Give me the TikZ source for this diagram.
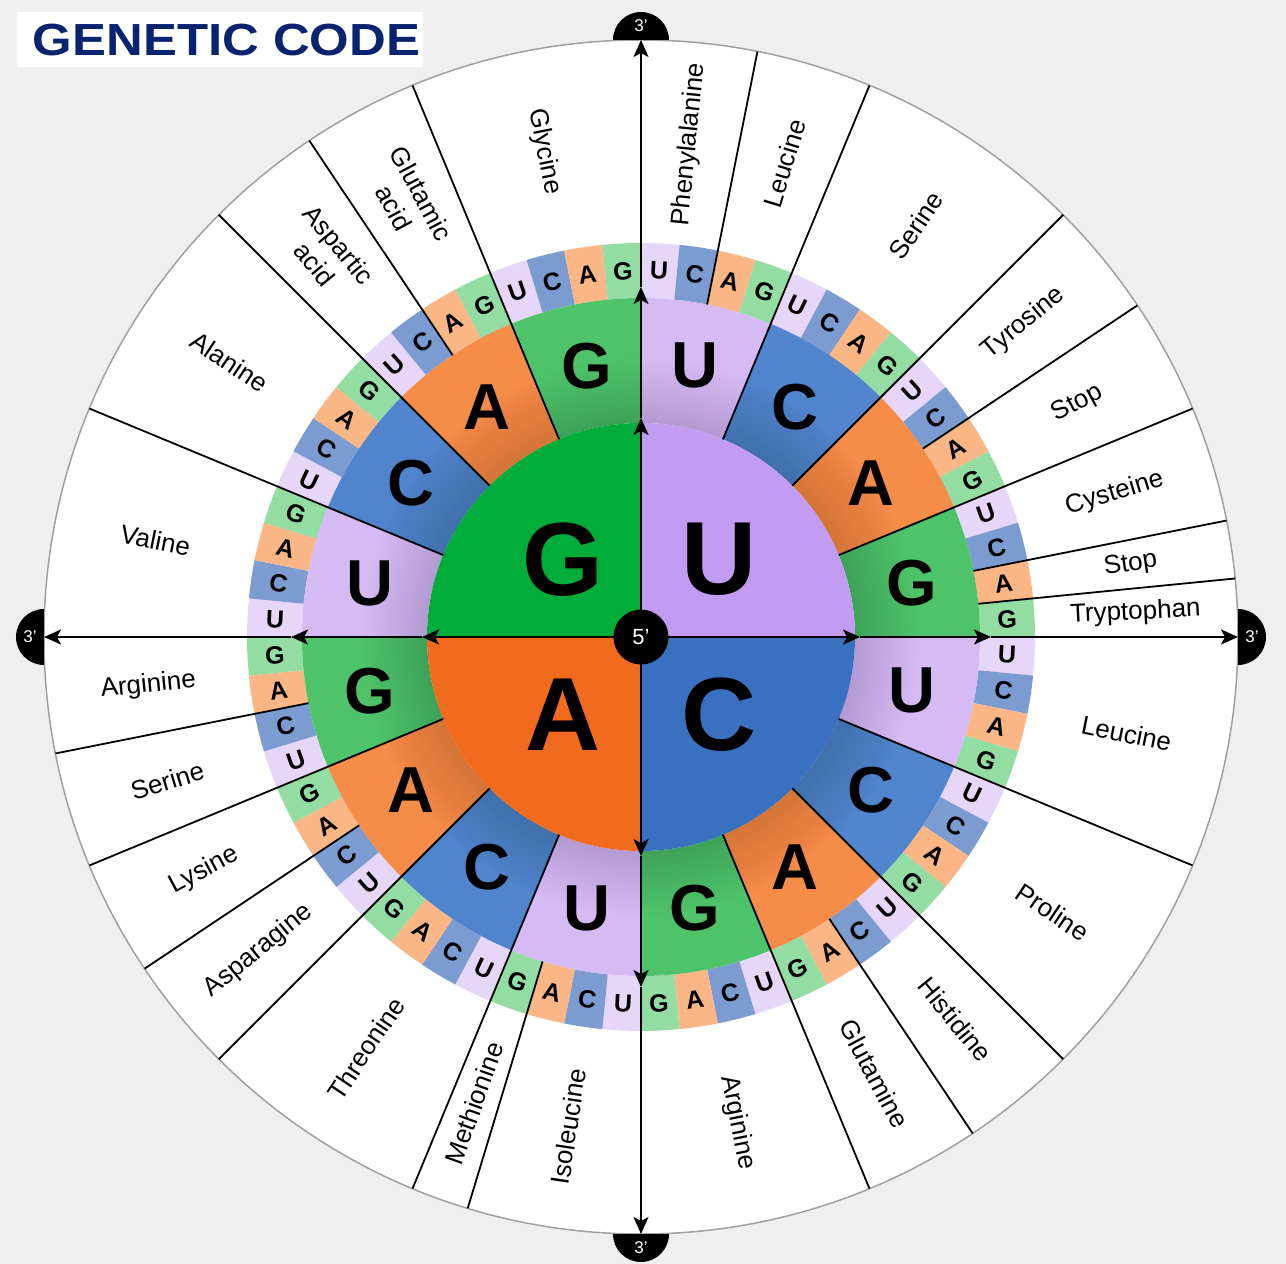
\documentclass[tikz,border=0pt]{standalone}
\usepackage{fontspec}
\setmainfont{Liberation Sans}
\usetikzlibrary{arrows.meta}
\definecolor{bg}{RGB}{239,239,239}
\definecolor{rim}{RGB}{160,160,160}
\definecolor{inU}{RGB}{193,156,242}
\definecolor{inC}{RGB}{58,112,192}
\definecolor{inA}{RGB}{242,106,30}
\definecolor{inG}{RGB}{0,172,58}
\definecolor{midU}{RGB}{213,186,243}
\definecolor{midC}{RGB}{80,132,204}
\definecolor{midA}{RGB}{245,140,72}
\definecolor{midG}{RGB}{78,195,105}
\definecolor{outU}{RGB}{230,214,250}
\definecolor{outC}{RGB}{124,155,208}
\definecolor{outA}{RGB}{251,182,134}
\definecolor{outG}{RGB}{147,220,162}
\definecolor{navy}{RGB}{8,36,112}
\begin{document}
\begin{tikzpicture}[x=1pt,y=1pt,
  divider/.style={black,line width=1.8pt},
  axisline/.style={black,line width=1.8pt,-{Stealth[length=17pt,width=15pt,inset=4pt]}},
  amino/.style={font=\fontsize{26}{31}\selectfont,align=center,inner sep=0pt},
  thirdlet/.style={font=\bfseries\fontsize{25}{27}\selectfont,inner sep=0pt},
  secondlet/.style={font=\bfseries\fontsize{65}{70}\selectfont,inner sep=0pt},
  firstlet/.style={font=\bfseries\fontsize{104}{110}\selectfont,inner sep=0pt},
  endlabel/.style={font=\fontsize{17}{19}\selectfont,text=white,inner sep=0pt}]
\def\rA{214}\def\rB{339}\def\rC{394}\def\rO{597}
\useasboundingbox (-641,-627) rectangle (645,637);
\fill[bg] (-641,-627) rectangle (645,637);
% outer disc
\filldraw[fill=white,draw=rim,line width=1.5pt] (0,0) circle[radius=\rO];
% third ring
\foreach \fa [count=\i from 0] in {U,C,A,G}{
 \foreach \sa [count=\j from 0] in {U,C,A,G}{
  \foreach \ta [count=\k from 0] in {U,C,A,G}{
   \pgfmathsetmacro\ph{90*\i+22.5*\j+5.625*\k}
   \pgfmathsetmacro\aS{90-\ph}
   \pgfmathsetmacro\aE{\aS-5.625}
   \fill[out\ta] (\aS:\rB) arc[start angle=\aS,end angle=\aE,radius=\rB] -- (\aE:\rC) arc[start angle=\aE,end angle=\aS,radius=\rC] -- cycle;
  }}}
% second ring
\foreach \fa [count=\i from 0] in {U,C,A,G}{
 \foreach \sa [count=\j from 0] in {U,C,A,G}{
   \pgfmathsetmacro\aS{90-90*\i-22.5*\j}
   \pgfmathsetmacro\aE{\aS-22.5}
   \fill[mid\sa] (\aS:\rA) arc[start angle=\aS,end angle=\aE,radius=\rA] -- (\aE:\rB) arc[start angle=\aE,end angle=\aS,radius=\rB] -- cycle;
 }}
\foreach \k in {1,...,16}{
  \fill[black,opacity=0.009,even odd rule] (0,0) circle[radius=\rA+4*\k] (0,0) circle[radius=\rA];
}
% inner disc
\foreach \fa [count=\i from 0] in {U,C,A,G}{
  \pgfmathsetmacro\aS{90-90*\i}
  \pgfmathsetmacro\aE{\aS-90}
  \fill[in\fa] (0,0) -- (\aS:\rA) arc[start angle=\aS,end angle=\aE,radius=\rA] -- cycle;
}
% dividers
\foreach \p in {22.5,45,67.5,112.5,135,157.5,202.5,225,247.5,292.5,315,337.5}{
  \draw[divider] ({90-\p}:\rA) -- ({90-\p}:\rO);
}
\foreach \p in {11.25,56.25,78.75,84.375,146.25,196.875,236.25,258.75,326.25}{
  \draw[divider] ({90-\p}:\rB) -- ({90-\p}:\rO);
}
% axes
\coordinate (o) at (0,0);
\foreach \d [count=\n] in {90,0,-90,180}{
  \coordinate (p\n a) at (\d:219);
  \coordinate (p\n b) at (\d:350);
  \coordinate (p\n c) at (\d:\rO);
  \draw[axisline] (o) -- (p\n a);
  \draw[axisline] (p\n a) -- (p\n b);
  \draw[axisline] (p\n b) -- (p\n c);
  \fill[black] (p\n c) ++(\d+90:28) arc[start angle=\d+90,end angle=\d-90,radius=28] -- cycle;
  \node[endlabel] (e\n) at (\d:611) {3’};
}
\node[circle,fill=black,minimum size=55pt,inner sep=0pt,text=white,font=\fontsize{22}{24}\selectfont] (five) at (o) {5’};
% letters
\foreach \fa [count=\i from 0] in {U,C,A,G}{
  \pgfmathsetmacro\aM{90-90*\i-45}
  \node[firstlet] (f\fa) at (\aM:110) {\fa};
 \foreach \sa [count=\j from 0] in {U,C,A,G}{
   \pgfmathsetmacro\aM{90-90*\i-22.5*\j-11.25}
   \node[secondlet] (s\fa\sa) at (\aM:276.5) {\sa};
  \foreach \ta [count=\k from 0] in {U,C,A,G}{
   \pgfmathsetmacro\ph{90*\i+22.5*\j+5.625*\k+2.8125}
   \pgfmathsetmacro\aM{90-\ph}
   \pgfmathsetmacro\rt{-\ph+90*round(\ph/90)}
   \node[thirdlet,rotate=\rt] (t\fa\sa\ta) at (\aM:366.5) {\ta};
  }}}
% amino acid labels
\foreach \ph/\txt [count=\n] in {5.625/Phenylalanine,16.875/Leucine,33.75/Serine,50.625/Tyrosine,61.875/Stop,73.125/Cysteine,81.5625/Stop,87.1875/Tryptophan,
  101.25/Leucine,123.75/Proline,140.625/Histidine,151.875/Glutamine,168.75/Arginine,
  188.4375/Isoleucine,199.6875/Methionine,213.75/Threonine,230.625/Asparagine,241.875/Lysine,253.125/Serine,264.375/Arginine,
  281.25/Valine,303.75/Alanine,320.625/{Aspartic\\acid},331.875/{Glutamic\\acid},348.75/Glycine}{
  \pgfmathsetmacro\al{90-\ph}
  \pgfmathsetmacro\rt{cos(\al)>=0 ? \al : \al+180}
  \node[amino,rotate=\rt] (aa\n) at (\al:495) {\txt};
}
% title
\fill[white] (-624,625) rectangle (-218,570);
\node[xscale=1.13,text=navy,font=\bfseries\fontsize{45}{48}\selectfont,inner sep=0pt] (title) at (-414.5,597) {GENETIC CODE};
\end{tikzpicture}
\end{document}
